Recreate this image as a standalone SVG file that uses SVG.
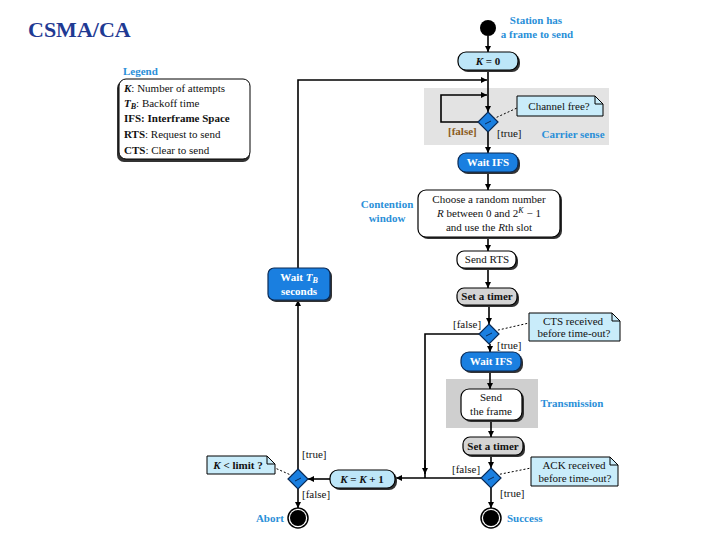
<svg xmlns="http://www.w3.org/2000/svg" width="720" height="540" viewBox="0 0 720 540">
<defs>
<marker id="ah" viewBox="0 0 10 10" refX="10" refY="5" markerWidth="6" markerHeight="6" markerUnits="userSpaceOnUse" orient="auto"><path d="M0,0 L10,5 L0,10 z" fill="#000"/></marker>
<style>
.t{font-family:"Liberation Serif","Times New Roman",serif;}
.lbl{font-family:"Liberation Serif",serif;font-size:11px;fill:#111;}
.blue{fill:#2a8fd8;font-family:"Liberation Serif",serif;font-weight:bold;font-size:11px;}
.ln{fill:none;stroke:#000;stroke-width:1.6;}
.dot{fill:none;stroke:#000;stroke-width:1;stroke-dasharray:2,2;}
.shadow{fill:#333;}
.lb{fill:#bde6f8;stroke:#000;stroke-width:1.2;}
.db{fill:#1a7fe0;stroke:#0a2a55;stroke-width:1.2;}
.wb{fill:#fff;stroke:#000;stroke-width:1.2;}
.gb{fill:#d4d4d4;stroke:#000;stroke-width:1.2;}
.note{fill:#c9ecfa;stroke:#000;stroke-width:1;}
.dia{fill:#1a7fe0;stroke:#0a2a55;stroke-width:1.2;}
.bt{font-family:"Liberation Serif",serif;font-size:11px;font-weight:bold;text-anchor:middle;fill:#111;}
.wt{font-family:"Liberation Serif",serif;font-size:11px;font-weight:bold;text-anchor:middle;fill:#fff;}
.nt{font-family:"Liberation Serif",serif;font-size:11px;text-anchor:middle;fill:#111;}
</style>
</defs>
<rect width="720" height="540" fill="#fff"/>
<text x="28" y="37" class="t" font-size="22" font-weight="bold" fill="#1f3a93">CSMA/CA</text>

<!-- background regions -->
<rect x="424" y="88" width="185" height="57" fill="#e3e3e3"/>
<rect x="446" y="379" width="92" height="49" fill="#cfcfcf"/>

<!-- legend -->
<g id="legend">
<text x="123" y="75" class="blue">Legend</text>
<rect x="117" y="81" width="133" height="81" rx="7" class="shadow"/>
<rect x="119" y="79" width="131" height="80" rx="7" fill="#fff" stroke="#000" stroke-width="1"/>
<text x="124" y="92" class="lbl"><tspan font-style="italic" font-weight="bold">K</tspan>: Number of attempts</text>
<text x="124" y="107" class="lbl"><tspan font-style="italic" font-weight="bold">T<tspan font-size="8" dy="2">B</tspan></tspan><tspan dy="-2">: Backoff time</tspan></text>
<text x="124" y="122" class="lbl" font-weight="bold">IFS: Interframe Space</text>
<text x="124" y="138" class="lbl"><tspan font-weight="bold">RTS</tspan>: Request to send</text>
<text x="124" y="154" class="lbl"><tspan font-weight="bold">CTS</tspan>: Clear to send</text>
</g>

<!-- connectors -->
<g id="connectors">
<line x1="488" y1="36" x2="488" y2="52" class="ln" marker-end="url(#ah)"/>
<line x1="488" y1="70" x2="488" y2="112" class="ln" marker-end="url(#ah)"/>
<polyline points="478,122 441,122 441,95 487,95" class="ln" marker-end="url(#ah)"/>
<polyline points="298,268 298,80 487,80" class="ln" marker-end="url(#ah)"/>
<line x1="488" y1="132" x2="488" y2="153" class="ln" marker-end="url(#ah)"/>
<line x1="488" y1="172" x2="488" y2="190" class="ln" marker-end="url(#ah)"/>
<line x1="488" y1="237" x2="488" y2="251" class="ln" marker-end="url(#ah)"/>
<line x1="488" y1="268" x2="488" y2="288" class="ln" marker-end="url(#ah)"/>
<line x1="489" y1="305" x2="489" y2="324" class="ln" marker-end="url(#ah)"/>
<polyline points="479,334 425,334 425,478" class="ln"/>
<line x1="425" y1="460" x2="425" y2="474" class="ln" marker-end="url(#ah)"/>
<line x1="490" y1="344" x2="490" y2="352" class="ln" marker-end="url(#ah)"/>
<line x1="490" y1="371" x2="490" y2="389" class="ln" marker-end="url(#ah)"/>
<line x1="491" y1="420" x2="491" y2="437" class="ln" marker-end="url(#ah)"/>
<line x1="491" y1="455" x2="491" y2="468" class="ln" marker-end="url(#ah)"/>
<line x1="481" y1="478" x2="396" y2="478" class="ln" marker-end="url(#ah)"/>
<line x1="330" y1="479" x2="308" y2="479" class="ln" marker-end="url(#ah)"/>
<line x1="298" y1="469" x2="298" y2="300" class="ln" marker-end="url(#ah)"/>
<line x1="298" y1="489" x2="298" y2="508" class="ln" marker-end="url(#ah)"/>
<line x1="491" y1="488" x2="491" y2="508" class="ln" marker-end="url(#ah)"/>
<line x1="493" y1="119" x2="517" y2="108" class="dot"/>
<line x1="494" y1="331" x2="529" y2="323" class="dot"/>
<line x1="496" y1="475" x2="531" y2="468" class="dot"/>
<line x1="293" y1="476" x2="275" y2="468" class="dot"/>
</g>

<!-- nodes -->
<g id="start">
<circle cx="488" cy="28" r="8" fill="#000"/>
<text x="536" y="24" class="blue" text-anchor="middle">Station has</text>
<text x="537" y="38" class="blue" text-anchor="middle">a frame to send</text>
</g>
<g id="k0">
<rect x="460" y="54" width="60" height="18" rx="8" class="shadow"/>
<rect x="458" y="52" width="60" height="18" rx="8" class="lb"/>
<text x="488" y="65" class="bt"><tspan font-style="italic">K</tspan> = 0</text>
</g>
<g id="d1">
<path d="M488,112 L498,122 L488,132 L478,122 z" class="dia"/>
<path d="M485,124 l6,-3" stroke="#0a2a55" stroke-width="1"/>
<text x="448" y="135" class="lbl" font-weight="bold" style="fill:#8a5a20">[false]</text>
<text x="497" y="137" class="lbl">[true]</text>
</g>
<g id="note1">
<path d="M517,96 h78 l8,8 v12 h-86 z" class="note"/>
<path d="M595,96 v8 h8" fill="none" stroke="#000" stroke-width="1"/>
<text x="559" y="110" class="nt">Channel free?</text>
<text x="573" y="138" class="blue" text-anchor="middle">Carrier sense</text>
</g>
<g id="waitifs1">
<rect x="460" y="155" width="60" height="19" rx="8" class="shadow"/>
<rect x="458" y="153" width="60" height="19" rx="8" class="db"/>
<text x="488" y="166" class="wt">Wait IFS</text>
</g>
<g id="choose">
<text x="387" y="208" class="blue" text-anchor="middle">Contention</text>
<text x="387" y="222" class="blue" text-anchor="middle">window</text>
<rect x="420" y="192" width="142" height="47" rx="8" class="shadow"/>
<rect x="418" y="190" width="142" height="47" rx="8" class="wb"/>
<text x="489" y="203" class="nt">Choose a random number</text>
<text x="489" y="217" class="nt"><tspan font-style="italic">R</tspan> between 0 and 2<tspan font-size="8" dy="-4" font-style="italic">K</tspan><tspan dy="4"> − 1</tspan></text>
<text x="489" y="231" class="nt">and use the <tspan font-style="italic">R</tspan>th slot</text>
</g>
<g id="sendrts">
<rect x="459" y="253" width="59" height="17" rx="7" class="shadow"/>
<rect x="457" y="251" width="59" height="17" rx="7" class="wb"/>
<text x="487" y="263" class="nt">Send RTS</text>
</g>
<g id="settimer1">
<rect x="459" y="290" width="60" height="17" rx="7" class="shadow"/>
<rect x="457" y="288" width="60" height="17" rx="7" class="gb"/>
<text x="487" y="300" class="bt">Set a timer</text>
</g>
<g id="d2">
<path d="M489,324 L499,334 L489,344 L479,334 z" class="dia"/>
<path d="M486,336 l6,-3" stroke="#0a2a55" stroke-width="1"/>
<text x="453" y="328" class="lbl">[false]</text>
<text x="497" y="349" class="lbl">[true]</text>
</g>
<g id="note2">
<path d="M529,313 h83 l8,8 v20 h-91 z" class="note"/>
<path d="M612,313 v8 h8" fill="none" stroke="#000" stroke-width="1"/>
<text x="573" y="325" class="nt">CTS received</text>
<text x="574" y="337" class="nt">before time-out?</text>
</g>
<g id="waitifs2">
<rect x="463" y="354" width="60" height="19" rx="8" class="shadow"/>
<rect x="461" y="352" width="60" height="19" rx="8" class="db"/>
<text x="491" y="365" class="wt">Wait IFS</text>
</g>
<g id="sendframe">
<rect x="463" y="391" width="61" height="31" rx="8" class="shadow"/>
<rect x="461" y="389" width="61" height="31" rx="8" class="wb"/>
<text x="491" y="401" class="nt">Send</text>
<text x="491" y="415" class="nt">the frame</text>
<text x="572" y="407" class="blue" text-anchor="middle">Transmission</text>
</g>
<g id="settimer2">
<rect x="465" y="439" width="60" height="18" rx="7" class="shadow"/>
<rect x="463" y="437" width="60" height="18" rx="7" class="gb"/>
<text x="493" y="450" class="bt">Set a timer</text>
</g>
<g id="d3">
<path d="M491,468 L501,478 L491,488 L481,478 z" class="dia"/>
<path d="M488,480 l6,-3" stroke="#0a2a55" stroke-width="1"/>
<text x="452" y="473" class="lbl">[false]</text>
<text x="500" y="497" class="lbl">[true]</text>
</g>
<g id="note3">
<path d="M531,457 h79 l8,8 v21 h-87 z" class="note"/>
<path d="M610,457 v8 h8" fill="none" stroke="#000" stroke-width="1"/>
<text x="574" y="469" class="nt">ACK received</text>
<text x="575" y="482" class="nt">before time-out?</text>
</g>
<g id="success">
<circle cx="491" cy="518" r="10" fill="#fff" stroke="#000" stroke-width="1.5"/>
<circle cx="491" cy="518" r="8" fill="#000"/>
<text x="507" y="522" class="blue">Success</text>
</g>
<g id="kinc">
<rect x="332" y="472" width="65" height="18" rx="8" class="shadow"/>
<rect x="330" y="470" width="65" height="18" rx="8" class="lb"/>
<text x="362" y="483" class="bt"><tspan font-style="italic">K</tspan> = <tspan font-style="italic">K</tspan> + 1</text>
</g>
<g id="d4">
<path d="M298,469 L308,479 L298,489 L288,479 z" class="dia"/>
<path d="M295,481 l6,-3" stroke="#0a2a55" stroke-width="1"/>
<text x="302" y="458" class="lbl">[true]</text>
<text x="302" y="498" class="lbl">[false]</text>
</g>
<g id="note4">
<path d="M207,456 h60 l8,8 v10 h-68 z" class="note"/>
<path d="M267,456 v8 h8" fill="none" stroke="#000" stroke-width="1"/>
<text x="238" y="469" class="bt"><tspan font-style="italic">K</tspan> &lt; limit ?</text>
</g>
<g id="abort">
<circle cx="298" cy="518" r="10" fill="#fff" stroke="#000" stroke-width="1.5"/>
<circle cx="298" cy="518" r="8" fill="#000"/>
<text x="284" y="522" class="blue" text-anchor="end">Abort</text>
</g>
<g id="waittb">
<rect x="270" y="270" width="62" height="32" rx="6" class="shadow"/>
<rect x="268" y="268" width="62" height="32" rx="6" class="db"/>
<text x="299" y="281" class="wt">Wait <tspan font-style="italic">T<tspan font-size="8" dy="2">B</tspan></tspan></text>
<text x="299" y="295" class="wt">seconds</text>
</g>
</svg>
